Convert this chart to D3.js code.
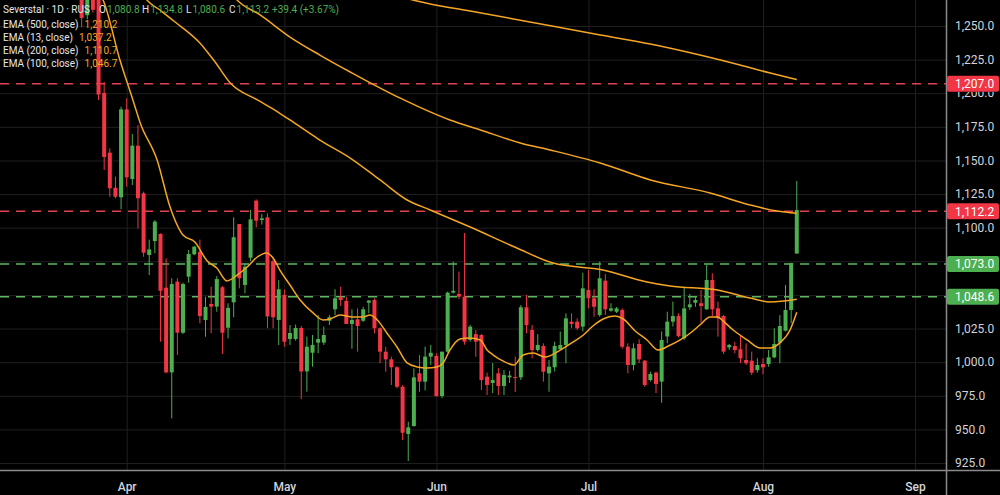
<!DOCTYPE html>
<html><head><meta charset="utf-8">
<script src="https://cdn.jsdelivr.net/npm/d3@7"></script>
<style>html,body{margin:0;padding:0;background:#000;overflow:hidden}svg{display:block}</style>
</head><body><svg id="c" width="1000" height="495"></svg>
<script>
// ---------- DATA ----------
const symbolLabel = "Severstal · 1D · RUS";
const startIndex = -3; // bar index of the first entry below
const opens  = [1312,1258,1300,1282,1200.2,1155.8,1129.7,1122.6,1188.0,1136.2,1161.0,1125.6,1079.7,1090.1,1095.3,1055.4,992.4,1059.9,1021.9,1063.6,1080.2,1082.1,1031.3,1043.3,1041.3,1055.7,1025.6,1044.5,1102.7,1057.4,1077.7,1120.1,1105.7,1107.7,1075.0,1031.4,1050.0,1017.2,1017.2,1025.4,993.1,1007.0,1014.5,1014.5,1030.8,1039.3,1048.2,1045.5,1028.4,1031.9,1030.8,1044.2,1046.2,1025.2,1007.8,1002.1,996.2,981.7,946.6,952.5,991.7,985.5,1004.1,1004.6,974.8,1007.8,1051.7,1050.7,1048.7,1016.5,1020.9,1020.2,989.2,984.5,991.7,982.3,988.7,989.0,988.7,1040.8,1024.0,1009.0,1012.0,991.7,996.2,1009.6,1012.8,1030.1,1030.1,1026.4,1053.7,1047.5,1035.0,1060.6,1038.3,1037.5,1038.8,1011.5,997.9,1013.5,1001.1,986.7,992.2,985.5,1019.1,1030.1,1034.3,1017.7,1040.8,1044.2,1043.8,1039.3,1061.1,1040.0,1034.3,1011.0,1012.0,1009.6,1001.6,1001.1,994.0,998.6,998.6,1003.6,1014.5,1023.4,1038.8,1080.8];
const highs  = [1320,1300,1305,1285,1208.4,1159.0,1138.0,1190.0,1196.2,1169.7,1176.4,1126.8,1091.1,1105.7,1095.8,1077.2,1062.4,1062.4,1059.1,1083.4,1086.5,1091.1,1048.7,1056.1,1064.1,1056.6,1043.8,1107.7,1102.7,1073.5,1113.2,1121.0,1110.2,1110.7,1077.0,1061.0,1054.0,1027.6,1028.0,1027.0,1019.0,1020.2,1035.0,1026.4,1035.0,1054.2,1056.1,1048.7,1039.3,1040.0,1041.2,1046.2,1047.5,1025.8,1011.5,1004.0,997.0,983.0,955.7,995.4,1005.3,1011.5,1012.8,1006.6,1007.8,1052.4,1074.7,1067.3,1096.0,1027.6,1023.9,1021.0,992.2,999.4,995.6,994.2,993.6,1004.1,1042.5,1050.0,1027.6,1020.9,1014.0,1001.6,1015.2,1022.8,1036.3,1036.3,1032.6,1066.5,1068.5,1054.2,1074.7,1065.6,1043.8,1041.0,1040.0,1014.0,1014.0,1017.0,1001.6,993.0,993.0,1022.8,1037.5,1045.0,1036.3,1055.7,1050.7,1049.2,1053.7,1072.2,1066.1,1045.0,1035.0,1013.5,1015.2,1020.2,1014.0,1007.8,1002.9,1002.9,1009.0,1025.2,1035.0,1057.4,1073.8,1134.8];
const lows   = [1249,1255,1260,1195,1142.9,1123.0,1121.9,1113.7,1130.5,1131.7,1099.5,1078.4,1064.8,1081.0,1015.2,991.7,958.2,1005.3,1021.0,1059.1,1079.5,1028.9,1018.9,1021.5,1037.5,1006.1,1017.7,1033.4,1054.9,1051.2,1075.2,1100.3,1102.3,1025.2,1025.2,1012.8,1011.5,1012.8,1016.0,972.6,978.0,996.6,1006.6,1012.8,1027.6,1035.0,1041.8,1028.4,1010.0,1007.8,1030.0,1036.3,1021.5,999.2,992.9,983.0,980.5,942.0,926.5,952.0,978.0,979.0,997.9,974.3,973.3,1007.0,1051.0,1047.0,1013.0,1015.2,1004.0,979.3,975.6,977.0,975.6,975.6,984.5,977.8,986.7,1021.5,1002.9,1007.8,985.5,978.0,993.0,1009.0,999.2,1025.2,1024.0,1022.8,1040.0,1033.8,1033.8,1035.0,1037.5,1036.5,1010.0,991.7,994.0,999.2,981.7,985.5,977.0,969.8,1014.0,1026.4,1018.5,1016.5,1038.8,1041.2,1029.3,1038.8,1034.3,1019.0,1006.1,1009.0,1006.6,999.2,997.9,990.4,992.2,991.0,996.6,1002.9,999.2,1022.8,1028.9,1080.6];
const closes = [1256,1292,1262,1199,1152.6,1129.3,1123.0,1188.0,1137.5,1161.0,1121.9,1081.4,1083.8,1104.5,1053.1,992.4,1058.1,1021.9,1058.1,1080.4,1085.9,1034.3,1041.1,1041.3,1061.8,1021.9,1040.4,1092.9,1062.4,1071.0,1106.2,1105.2,1107.0,1034.0,1033.4,1054.2,1015.2,1021.7,1025.4,993.1,1011.5,1012.8,1017.2,1020.2,1033.4,1047.5,1046.2,1028.4,1031.4,1026.9,1039.3,1045.8,1025.2,1007.8,1002.1,996.2,981.7,947.5,951.5,988.7,985.5,1004.1,1007.0,974.8,1007.8,1051.7,1053.1,1048.7,1015.2,1026.4,1015.2,986.7,983.0,986.7,982.3,990.4,990.0,988.7,1040.8,1027.6,1009.0,1012.8,992.9,996.6,1012.0,1012.8,1032.6,1028.4,1025.2,1054.9,1047.5,1041.2,1062.4,1039.3,1040.0,1040.0,1011.5,997.9,1010.3,1002.1,983.0,991.2,983.8,1016.5,1030.1,1034.3,1019.4,1040.0,1043.0,1046.2,1041.8,1061.1,1039.3,1032.6,1007.8,1012.8,1009.0,1002.9,999.2,992.2,997.9,996.2,1003.6,1013.5,1026.9,1038.8,1073.8,1113.2];

// EMA readings: [bar index, value]
const ema500 = [[53.6,1271.6],[58.9,1266.4],[66,1261.2],[76.6,1253],[89.1,1243.3],[98,1236.6],[106.8,1228.4],[113.9,1221],[119.3,1215],[124,1210.2]];
const ema13  = [[0,1275.3],[0.8,1269.3],[3.8,1224.7],[6.1,1195],[7.4,1177.9],[10.4,1150.3],[12.7,1115.4],[15,1094.6],[17.1,1089.4],[19.3,1075.2],[21,1070],[22.8,1060.4],[24.6,1064.8],[26.4,1070.8],[28.2,1078.2],[29.8,1081.2],[31,1077.5],[32.2,1068.5],[34,1057.4],[35.8,1046.2],[38.1,1036.6],[39.9,1031.4],[41.1,1032.1],[42.9,1035.1],[45.2,1033.6],[47,1033.6],[48.2,1035.1],[49.5,1031.4],[51.2,1021.7],[53,1011.3],[54.8,999.4],[56.6,996.4],[58.3,995.6],[60.1,996.4],[61.2,999.4],[62.4,1009],[64.2,1017.2],[65.9,1018],[67.8,1016.5],[69,1009],[70.1,1005.3],[71.8,1000.9],[73.8,997.9],[75.4,1005.3],[77.2,1006.8],[79.3,1003.8],[82,1009],[84.3,1015],[86.1,1020.2],[87.8,1026.9],[89.6,1032.1],[91.7,1034.3],[93.2,1032.1],[95.3,1023.2],[97.4,1016.5],[99.4,1009],[101.2,1012],[103.3,1016.5],[105.1,1021.7],[106.8,1027.6],[108.6,1033.6],[109.9,1033.6],[111.1,1029.9],[112.7,1023.9],[115.2,1016.5],[117.5,1010.5],[119.3,1010.5],[121,1014.3],[122.8,1023.9],[124,1037.2]];
const ema200 = [[23.4,1275.3],[24.6,1269.3],[28.7,1258.2],[34,1241.8],[39.3,1228.4],[44.7,1215.8],[53.5,1196.5],[62.4,1180.1],[67.8,1172.7],[74.9,1163],[80.2,1157.8],[89.1,1148.1],[98,1135.5],[108.6,1125.8],[115.7,1116.9],[120.5,1112.4],[124,1110.7]];
const ema100 = [[7.4,1276.8],[8.6,1269.3],[10.9,1261.9],[13.6,1253],[18,1237.4],[20.7,1223.2],[23.4,1207.6],[28.2,1195],[31.3,1187.5],[34,1180.1],[39.3,1165.2],[44.7,1151.8],[50,1135.5],[54.8,1120.6],[58.9,1113.2],[66,1100.5],[74.3,1084.9],[80.7,1073.7],[89.6,1068.5],[97.4,1059.6],[101.5,1056.6],[109.9,1053.7],[115.7,1047.7],[119.3,1044.7],[124,1046.7]];
const emaNames = ["EMA (500, close)","EMA (13, close)","EMA (200, close)","EMA (100, close)"];

const levelValues = [1207.0, 1112.2, 1073.0, 1048.6];
const levelSides  = ["down","down","up","up"];

const priceTicks = [925,950,975,1000,1025,1050,1075,1100,1125,1150,1175,1200,1225,1250];
const monthLabels = ["Apr","May","Jun","Jul","Aug","Sep"];
const monthBars   = [5,33,60,87,118,145];

// ---------- LAYOUT ----------
const W = 1000, H = 495, plotR = 946, plotB = 470;
const GREEN = "#4caf50", RED = "#f23645", ORANGE = "#f5a623", TXT = "#d1d4dc";
const FONT = "Roboto, 'Noto Sans', sans-serif";

const x = d3.scaleLinear().domain([-17.5, 150.5]).range([0, plotR]);
const y = d3.scaleLinear().domain([925, 1250]).range([463, 26]);

const svg = d3.select("#c");
const defs = svg.append("defs");
svg.append("rect").attr("width", W).attr("height", H).attr("fill", "#000");

defs.append("clipPath").attr("id", "plot")
  .append("rect").attr("x", 0).attr("y", 0).attr("width", plotR).attr("height", plotB);

// grid
const grid = svg.append("g");
grid.append("g").call(d3.axisLeft(y).tickValues(priceTicks).tickSize(-plotR).tickFormat(""))
  .call(g => g.select(".domain").remove())
  .call(g => g.selectAll("line").attr("stroke", "#1f1f1f").attr("stroke-width", 1));
grid.append("g").attr("transform", `translate(0,${plotB})`)
  .call(d3.axisBottom(x).tickValues(monthBars).tickSize(-plotB).tickFormat(""))
  .call(g => g.select(".domain").remove())
  .call(g => g.selectAll("line").attr("stroke", "#1f1f1f").attr("stroke-width", 1));

const plot = svg.append("g").attr("clip-path", "url(#plot)");

// level lines
levelValues.forEach((v, i) => {
  plot.append("line").attr("x1", 0).attr("x2", plotR)
    .attr("y1", y(v)).attr("y2", y(v))
    .attr("stroke", levelSides[i] === "down" ? "#e0404f" : "#5cb860")
    .attr("stroke-width", 1.6).attr("stroke-dasharray", "9,7");
});

// candles
const bars = opens.map((o, k) => ({i: startIndex + k, o, h: highs[k], l: lows[k], c: closes[k]}));
const cg = plot.append("g");
bars.forEach(b => {
  const col = b.c >= b.o ? GREEN : RED;
  const cx = x(b.i);
  cg.append("line").attr("x1", cx).attr("x2", cx).attr("y1", y(b.h)).attr("y2", y(b.l))
    .attr("stroke", col).attr("stroke-width", 1);
  const top = y(Math.max(b.o, b.c)), bot = y(Math.min(b.o, b.c));
  cg.append("rect").attr("x", cx - 2).attr("width", 4)
    .attr("y", top).attr("height", Math.max(1, bot - top)).attr("fill", col);
});

// EMA lines
const line = d3.line().x(d => x(d[0])).y(d => y(d[1])).curve(d3.curveMonotoneX);
[ema500, ema200, ema100, ema13].forEach(s => {
  plot.append("path").attr("d", line(s)).attr("fill", "none")
    .attr("stroke", ORANGE).attr("stroke-width", 1.5);
});

// axis lines
svg.append("line").attr("x1", 0).attr("x2", W).attr("y1", plotB + 0.5).attr("y2", plotB + 0.5)
  .attr("stroke", "#8a8a8a").attr("stroke-width", 1.5);
svg.append("line").attr("x1", plotR + 0.5).attr("x2", plotR + 0.5).attr("y1", 0).attr("y2", H)
  .attr("stroke", "#8a8a8a").attr("stroke-width", 1.5);

// right axis labels (labels fully covered by a price tag are not drawn, as in the reference)
const fmt = d3.format(",.1f");
const tagH = 16;
const nearest = v => d3.min(levelValues, lv => Math.abs(y(lv) - y(v)));
const shownTicks = priceTicks.filter(v => nearest(v) > 6);
// partially covered labels: clip away the part under the tag
levelValues.forEach((lv, k) => {
  const cp = defs.append("clipPath").attr("id", "tagcut" + k);
  cp.append("rect").attr("x", plotR).attr("y", 0).attr("width", 60).attr("height", y(lv) - tagH / 2);
  cp.append("rect").attr("x", plotR).attr("y", y(lv) + tagH / 2).attr("width", 60).attr("height", H);
});
const ax = svg.append("g").attr("transform", `translate(${plotR},0)`)
  .call(d3.axisRight(y).tickValues(shownTicks).tickSize(0).tickPadding(9).tickFormat(fmt))
  .call(g => g.select(".domain").remove())
  .call(g => g.selectAll("text").attr("fill", TXT).attr("font-size", 12).attr("font-family", FONT));
ax.selectAll(".tick").each(function(v) {
  const k = levelValues.findIndex(lv => Math.abs(y(lv) - y(v)) < 14);
  if (k >= 0) {
    const t = d3.select(this).select("text");
    // move text into absolute clip coordinates by wrapping
    const gg = svg.append("g").attr("clip-path", `url(#tagcut${k})`);
    gg.append("text").attr("x", plotR + 9).attr("y", y(v)).attr("dy", "0.32em")
      .attr("fill", TXT).attr("font-size", 12).attr("font-family", FONT).text(fmt(v));
    t.remove();
  }
});

// price tags
levelValues.forEach((v, i) => {
  const g = svg.append("g");
  g.append("rect").attr("x", plotR + 1).attr("y", y(v) - tagH / 2).attr("width", 52).attr("height", tagH)
    .attr("rx", 2).attr("fill", levelSides[i] === "down" ? RED : GREEN);
  g.append("text").attr("x", plotR + 9).attr("y", y(v)).attr("dy", "0.36em")
    .attr("fill", "#fff").attr("font-size", 12).attr("font-family", FONT).text(fmt(v));
});

// bottom axis labels
svg.append("g").attr("transform", `translate(0,${plotB})`)
  .call(d3.axisBottom(x).tickValues(monthBars).tickSize(0).tickPadding(12)
    .tickFormat((d, i) => monthLabels[i]))
  .call(g => g.select(".domain").remove())
  .call(g => g.selectAll("text").attr("fill", TXT).attr("font-size", 12)
    .attr("font-weight", 500).attr("font-family", FONT));

// legend
const last = bars[bars.length - 1], prev = bars[bars.length - 2];
const chg = last.c - prev.c, pct = chg / prev.c * 100;
const lg = svg.append("g").attr("font-family", FONT).attr("font-size", 10);
const l1 = lg.append("text").attr("x", 3).attr("y", 13).attr("fill", "#e6e6e6");
l1.append("tspan").text(symbolLabel);
const ohlc = [["O", last.o], ["H", last.h], ["L", last.l], ["C", last.c]];
const ohlcX = [99, 142, 186, 229];
ohlc.forEach((p, k) => {
  l1.append("tspan").attr("x", ohlcX[k]).attr("fill", "#e6e6e6").text(p[0]);
  l1.append("tspan").attr("dx", 1).attr("fill", GREEN).text(fmt(p[1]));
});
l1.append("tspan").attr("x", 272).attr("fill", GREEN)
  .text(`${chg >= 0 ? "+" : ""}${chg.toFixed(1)} (${chg >= 0 ? "+" : ""}${pct.toFixed(2)}%)`);

const emaSeries = [ema500, ema13, ema200, ema100];
emaNames.forEach((n, k) => {
  const t = lg.append("text").attr("x", 3).attr("y", 27.5 + k * 13).attr("fill", "#e6e6e6");
  t.append("tspan").text(n);
  t.append("tspan").attr("dx", 6).attr("fill", ORANGE).text(fmt(emaSeries[k][emaSeries[k].length - 1][1]));
});
</script></body></html>
